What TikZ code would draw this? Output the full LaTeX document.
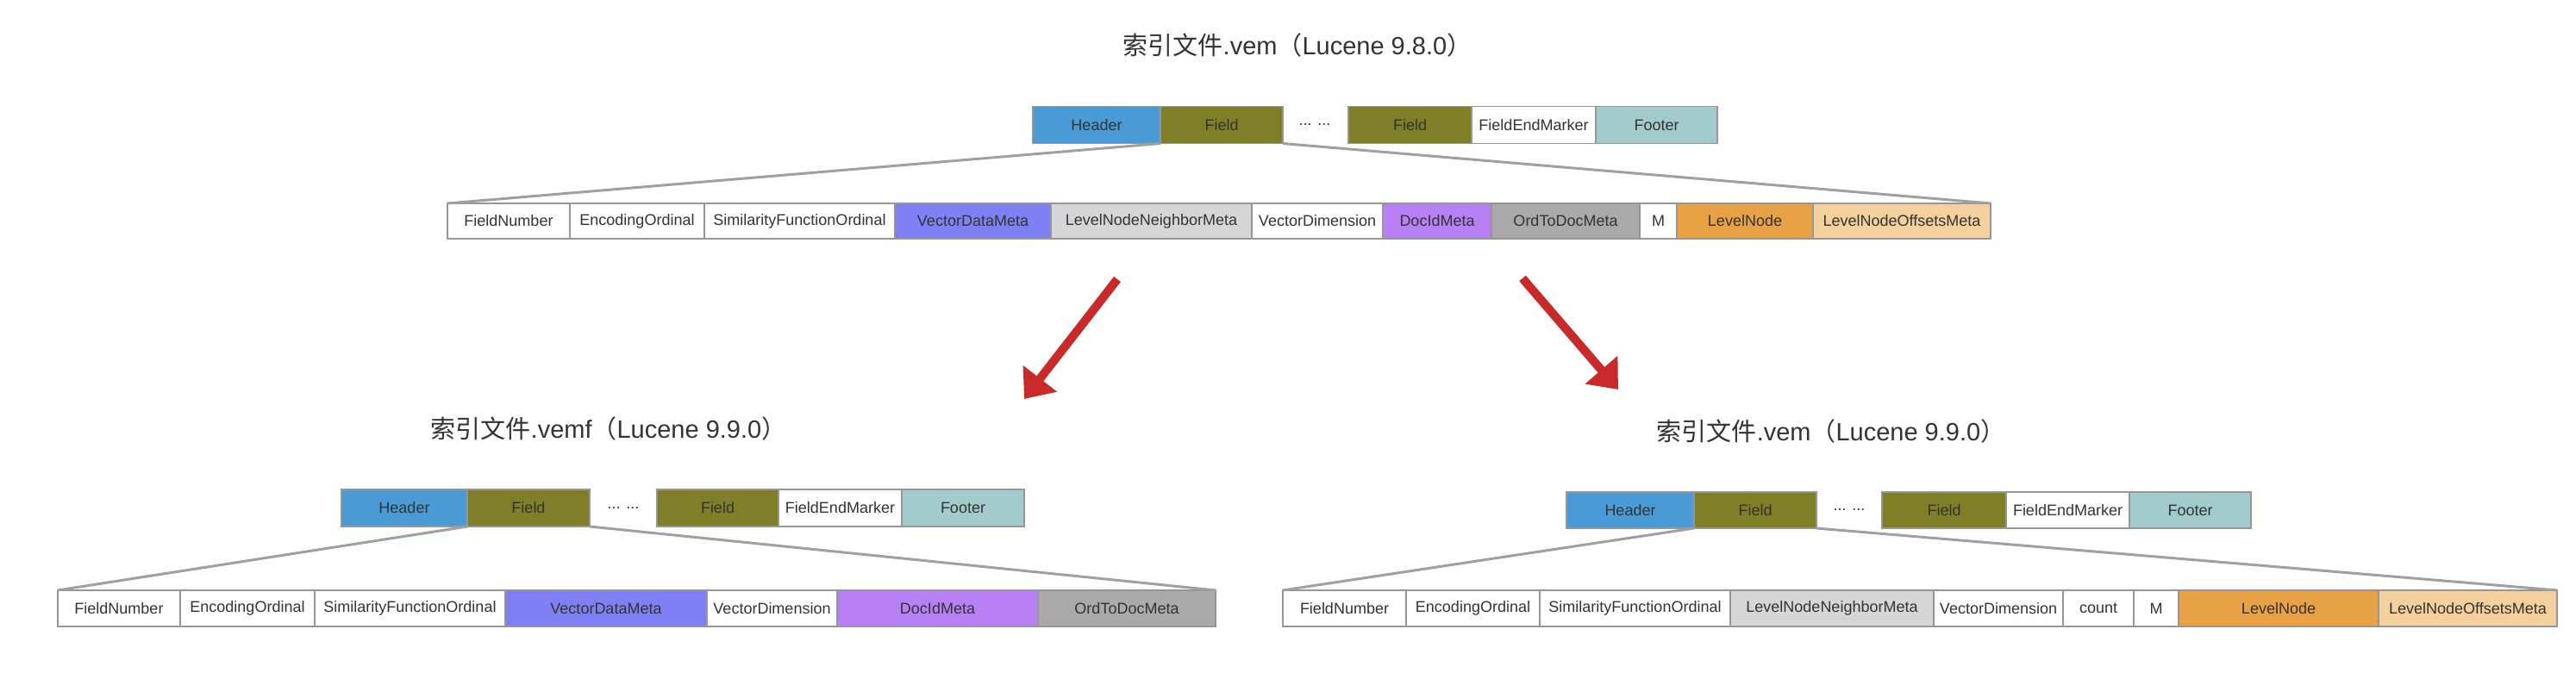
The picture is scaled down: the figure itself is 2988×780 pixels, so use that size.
\documentclass[tikz,border=0pt]{standalone}
\usepackage{fontspec}
\setmainfont{Liberation Sans}
\newfontfamily\cjk{Noto Sans CJK SC}
\usetikzlibrary{arrows.meta}

\definecolor{textgray}{RGB}{51,51,51}
\definecolor{cellgray}{RGB}{150,150,150}
\definecolor{linegray}{RGB}{160,160,160}
\definecolor{arrowred}{RGB}{200,42,42}
\definecolor{hdrblue}{RGB}{74,155,213}
\definecolor{fieldolive}{RGB}{127,127,39}
\definecolor{footerteal}{RGB}{163,203,203}
\definecolor{vecblue}{RGB}{128,128,245}
\definecolor{lightgray}{RGB}{214,214,214}
\definecolor{docpurple}{RGB}{184,128,245}
\definecolor{midgray}{RGB}{170,170,170}
\definecolor{lvlorange}{RGB}{232,161,68}
\definecolor{offpeach}{RGB}{243,208,156}

\newcommand{\cellfont}{\fontsize{18}{20}\selectfont}
\newcommand{\titlefont}{\fontsize{29}{34}\selectfont}

\begin{document}
\begin{tikzpicture}[x=1pt, y=-1pt,
  cell/.style={draw=cellgray, line width=1.5pt, inner sep=0pt, outer sep=0pt,
               text=textgray, font=\cellfont},
  dots/.style={text=textgray, font=\cellfont},
  title/.style={text=textgray, font=\titlefont},
  zoomline/.style={draw=linegray, line width=3pt},
  bigarrow/.style={draw=arrowred, line width=10pt, -{Triangle[length=30pt,width=48pt]}},
]
  \useasboundingbox (0,0) rectangle (2988,780);

  % Lucene 9.8.0

  %% .vem
  \node[title] (aTitle) at (1505,52) {{\cjk 索引文件}.vem{\cjk （}Lucene 9.8.0{\cjk ）}};
  \foreach \n/\t/\l/\r/\c in {aHdr/Header/1198/1346/hdrblue, aFld/Field/1346/1488/fieldolive,
      aFld2/Field/1564/1707/fieldolive, aEnd/FieldEndMarker/1707/1851/white,
      aFtr/Footer/1851/1992/footerteal}
    \node[cell, fill=\c, minimum width={\r-\l}, minimum height=43] (\n) at ({(\l+\r)/2},145) {\t};
  \node[dots] (aDots) at (1525,145) {... ...};

  %% Field
  \foreach \n/\t/\l/\r/\c in {bNum/FieldNumber/519/661/white, bEnc/EncodingOrdinal/661/817/white,
      bSim/SimilarityFunctionOrdinal/817/1038/white, bVdm/VectorDataMeta/1038/1219/vecblue,
      bLnn/LevelNodeNeighborMeta/1219/1452/lightgray, bDim/VectorDimension/1452/1604/white,
      bDoc/DocIdMeta/1604/1730/docpurple, bOrd/OrdToDocMeta/1730/1902/midgray,
      bM/M/1902/1945/white, bLvl/LevelNode/1945/2103/lvlorange,
      bOff/LevelNodeOffsetsMeta/2103/2309/offpeach}
    \node[cell, fill=\c, minimum width={\r-\l}, minimum height=41] (\n) at ({(\l+\r)/2},256.5) {\t};
  \draw[zoomline] (aFld.south west) -- (bNum.north west);
  \draw[zoomline] (aFld.south east) -- (bOff.north east);

  %% split
  \coordinate (lTail) at (1296,324); \coordinate (lTip) at (1188,463);
  \coordinate (rTail) at (1766,323); \coordinate (rTip) at (1877,452);
  \draw[bigarrow] (lTail) -- (lTip);
  \draw[bigarrow] (rTail) -- (rTip);

  %%%%%%%%%%%%%%%
  % Lucene 9.9.0

  %% .vemf
  \node[title] (cTitle) at (706,497) {{\cjk 索引文件}.vemf{\cjk （}Lucene 9.9.0{\cjk ）}};
  \foreach \n/\t/\l/\r/\c in {cHdr/Header/396/542/hdrblue, cFld/Field/542/684/fieldolive,
      cFld2/Field/762/903/fieldolive, cEnd/FieldEndMarker/903/1046/white,
      cFtr/Footer/1046/1188/footerteal}
    \node[cell, fill=\c, minimum width={\r-\l}, minimum height=43] (\n) at ({(\l+\r)/2},589.5) {\t};
  \node[dots] (cDots) at (723,589.5) {... ...};
  \foreach \n/\t/\l/\r/\c in {cNum/FieldNumber/67/209/white, cEnc/EncodingOrdinal/209/365/white,
      cSim/SimilarityFunctionOrdinal/365/586/white, cVdm/VectorDataMeta/586/820/vecblue,
      cDim/VectorDimension/820/971/white, cDoc/DocIdMeta/971/1204/docpurple,
      cOrd/OrdToDocMeta/1204/1410/midgray}
    \node[cell, fill=\c, minimum width={\r-\l}, minimum height=42] (\n) at ({(\l+\r)/2},706) {\t};
  \draw[zoomline] (cFld.south west) -- (cNum.north west);
  \draw[zoomline] (cFld.south east) -- (cOrd.north east);

  %% .vem
  \node[title] (dTitle) at (2124,500) {{\cjk 索引文件}.vem{\cjk （}Lucene 9.9.0{\cjk ）}};
  \foreach \n/\t/\l/\r/\c in {dHdr/Header/1817/1965/hdrblue, dFld/Field/1965/2107/fieldolive,
      dFld2/Field/2183/2327/fieldolive, dEnd/FieldEndMarker/2327/2470/white,
      dFtr/Footer/2470/2611/footerteal}
    \node[cell, fill=\c, minimum width={\r-\l}, minimum height=42] (\n) at ({(\l+\r)/2},592) {\t};
  \node[dots] (dDots) at (2145,592) {... ...};
  \foreach \n/\t/\l/\r/\c in {dNum/FieldNumber/1488/1631/white, dEnc/EncodingOrdinal/1631/1786/white,
      dSim/SimilarityFunctionOrdinal/1786/2007/white, dLnn/LevelNodeNeighborMeta/2007/2243/lightgray,
      dDim/VectorDimension/2243/2393/white, dCnt/count/2393/2475/white, dM/M/2475/2527/white,
      dLvl/LevelNode/2527/2759/lvlorange, dOff/LevelNodeOffsetsMeta/2759/2966/offpeach}
    \node[cell, fill=\c, minimum width={\r-\l}, minimum height=42] (\n) at ({(\l+\r)/2},706) {\t};
  \draw[zoomline] (dFld.south west) -- (dNum.north west);
  \draw[zoomline] (dFld.south east) -- (dOff.north east);

\end{tikzpicture}
\end{document}
